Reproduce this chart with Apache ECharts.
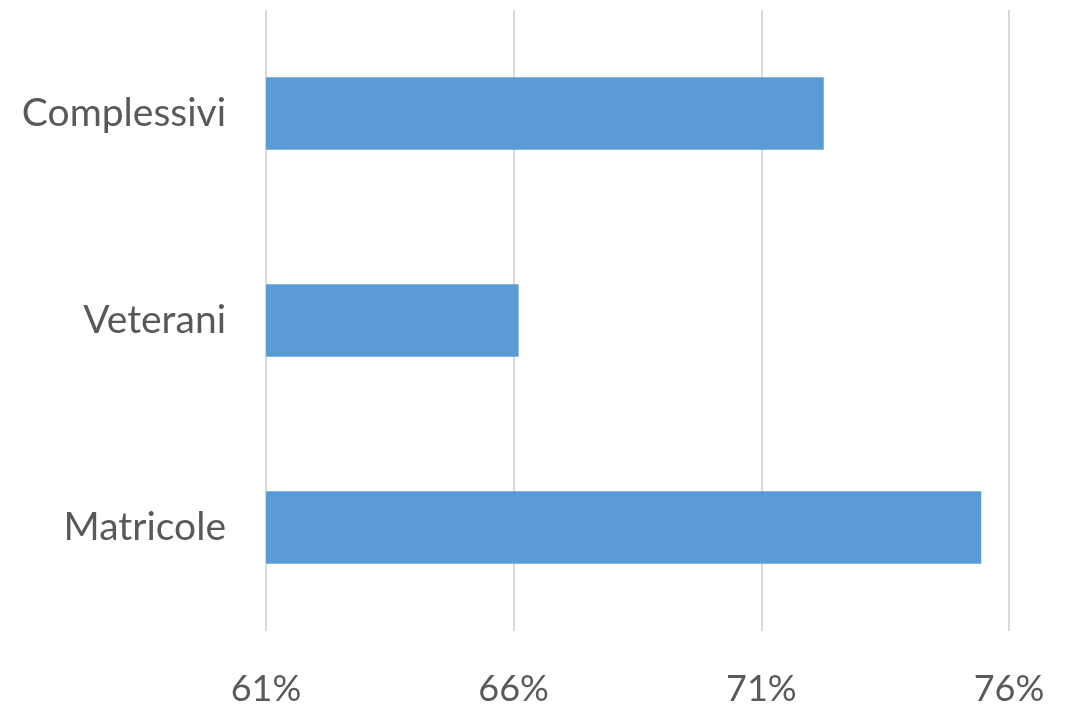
<!DOCTYPE html>
<html><head><meta charset="utf-8">
<script src="https://cdn.jsdelivr.net/npm/echarts@6/dist/echarts.min.js"></script>
<style>html,body{margin:0;padding:0;background:#fff}#c{width:1076px;height:707px}</style>
</head><body><div id="c"></div>
<script>
const categories = ['Matricole', 'Veterani', 'Complessivi'];
const values = [75.44, 66.1, 72.26];
const tickMin = 61, tickMax = 76, tickStep = 5;

const chart = echarts.init(document.getElementById('c'), null, {renderer: 'canvas'});
chart.setOption({
  animation: false,
  grid: {left: 266, right: 67, top: 10, bottom: 74, containLabel: false},
  xAxis: {
    type: 'value', min: tickMin, max: tickMax, interval: tickStep,
    axisLine: {show: false}, axisTick: {show: false},
    splitLine: {lineStyle: {color: '#d9d9d9', width: 2}},
    axisLabel: {formatter: v => v + '%', color: '#595959', fontSize: 36, fontFamily: 'Lato', margin: 40}
  },
  yAxis: {
    type: 'category', data: categories,
    axisLine: {show: false}, axisTick: {show: false},
    axisLabel: {color: '#595959', fontSize: 39, fontFamily: 'Lato', margin: 40}
  },
  series: [{
    type: 'bar', data: values, barCategoryGap: '65%',
    itemStyle: {color: '#5b9bd5'}
  }]
});
</script></body></html>
